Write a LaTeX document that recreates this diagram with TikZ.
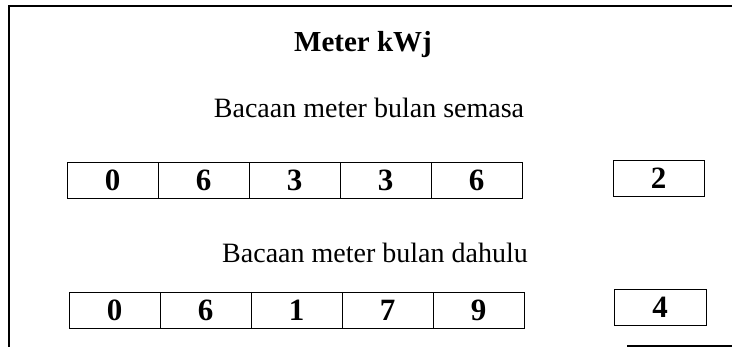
\documentclass[tikz,border=0pt]{standalone}
\usepackage{fontspec}
\setmainfont{Liberation Serif}
\begin{document}
\begin{tikzpicture}[
    x=1pt, y=-1pt,
    frame/.style={draw, line width=1.3pt},
    cell/.style={draw, line width=0.9pt, minimum width=91pt, minimum height=36pt,
        inner sep=0pt, font=\fontsize{31}{33}\selectfont\bfseries},
    heading/.style={anchor=base, inner sep=0pt, font=\fontsize{29}{32}\selectfont\bfseries},
    reading/.style={anchor=base, inner sep=0pt, font=\fontsize{28}{32}\selectfont}
]
    \useasboundingbox (0,0) rectangle (732,347);
    % outer frame
    \draw[frame] (732,6) -- (9,6) -- (9,347);
    \draw[frame] (627,346) -- (732,346);

    \node[heading] (title) at (363,52) {Meter kWj};
    \node[reading] (nowtext) at (369,118) {Bacaan meter bulan semasa};
    \node[reading] (prevtext) at (375,263) {Bacaan meter bulan dahulu};

    % current reading
    \foreach \d [count=\i] in {0,6,3,3,6}
        \node[cell] (now\i) at ({112.5+91*(\i-1)},180.5) {\d};
    \node[cell] (nowdec) at (658.5,178.5) {2};

    % previous reading
    \foreach \d [count=\i] in {0,6,1,7,9}
        \node[cell] (prev\i) at ({114.5+91*(\i-1)},310.5) {\d};
    \node[cell, minimum width=92pt] (prevdec) at (660,307) {4};
\end{tikzpicture}
\end{document}
